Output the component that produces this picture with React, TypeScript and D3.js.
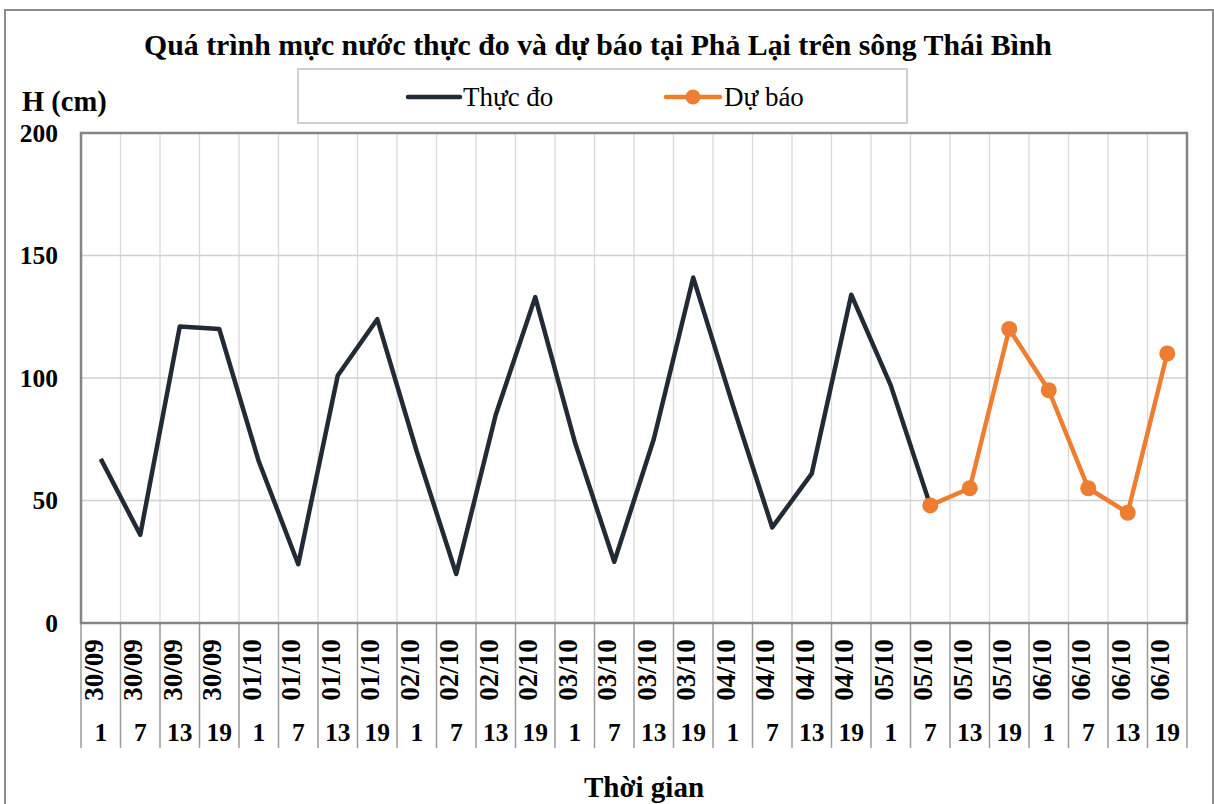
import React from 'react'
import * as d3 from 'd3'

// ngày / giờ trên trục hoành
const dates = ['30/09','30/09','30/09','30/09','01/10','01/10','01/10','01/10','02/10','02/10','02/10','02/10','03/10','03/10','03/10','03/10','04/10','04/10','04/10','04/10','05/10','05/10','05/10','05/10','06/10','06/10','06/10','06/10']
const hours = ['1','7','13','19','1','7','13','19','1','7','13','19','1','7','13','19','1','7','13','19','1','7','13','19','1','7','13','19']

// thực đo (đến 05/10 7h), dự báo (từ 05/10 7h)
const observed: (number | null)[] = [67, 36, 121, 120, 66, 24, 101, 124, 70, 20, 85, 133, 74, 25, 75, 141, 89, 39, 61, 134, 97, 48, null, null, null, null, null, null]
const forecast: (number | null)[] = [null, null, null, null, null, null, null, null, null, null, null, null, null, null, null, null, null, null, null, null, null, 48, 55, 120, 95, 55, 45, 110]

const yTicks = [0, 50, 100, 150, 200]

const W = 1214
const H = 804
const left = 81
const right = 1187
const top = 133
const bottom = 623
const font = '"Liberation Serif", "Times New Roman", serif'

const App = () => {
  const x = d3.scaleBand<number>().domain(d3.range(dates.length)).range([left, right])
  const y = d3.scaleLinear().domain([0, 200]).range([bottom, top])
  const cx = (i: number) => (x(i) as number) + x.bandwidth() / 2

  const line = d3.line<number | null>()
    .defined(d => d !== null)
    .x((d, i) => cx(i))
    .y(d => y(d as number))

  const bounds = d3.range(dates.length + 1).map(i => left + i * x.bandwidth())

  return (
    <svg width={W} height={H} style={{ position: 'absolute', left: 0, top: 0 }} fontFamily={font}>
      <rect x={0} y={0} width={W} height={H} fill="white" />
      {/* khung ngoài */}
      <path d={`M5,${H} V10 H1213 V${H}`} fill="none" stroke="#8c8c8c" strokeWidth={2} />

      <text x={598} y={55} textAnchor="middle" fontSize={29.8} fontWeight="bold">
        Quá trình mực nước thực đo và dự báo tại Phả Lại trên sông Thái Bình
      </text>

      {/* chú giải */}
      <rect x={298} y={69} width={609} height={54} fill="white" stroke="#d0d0d0" strokeWidth={2} />
      <line x1={408} x2={460} y1={97} y2={97} stroke="#222a35" strokeWidth={4.5} strokeLinecap="round" />
      <text x={463} y={106} fontSize={27}>Thực đo</text>
      <line x1={666} x2={720} y1={97} y2={97} stroke="#ed7d31" strokeWidth={4.5} strokeLinecap="round" />
      <circle cx={693} cy={97} r={7.5} fill="#ed7d31" />
      <text x={724} y={106} fontSize={27}>Dự báo</text>

      <text x={22} y={111} fontSize={28.5} fontWeight="bold">H (cm)</text>

      {/* lưới */}
      {bounds.slice(1, -1).map(b => (
        <line key={'v' + b} x1={b} x2={b} y1={top} y2={bottom} stroke="#d9d9d9" strokeWidth={1.3} />
      ))}
      {yTicks.slice(1, -1).map(t => (
        <line key={'h' + t} x1={left} x2={right} y1={y(t)} y2={y(t)} stroke="#d0d0d0" strokeWidth={1.5} />
      ))}
      {yTicks.map(t => (
        <text key={'yt' + t} x={58} y={y(t)} dy="0.35em" textAnchor="end" fontSize={25.5} fontWeight="bold">{t}</text>
      ))}

      {/* nhãn trục hoành */}
      {bounds.map(b => (
        <line key={'s' + b} x1={b} x2={b} y1={bottom} y2={748} stroke="#9a9a9a" strokeWidth={1.5} />
      ))}
      {dates.map((d, i) => (
        <text key={'d' + i} transform={`translate(${cx(i) + 2},670) rotate(-90)`} textAnchor="middle" fontSize={27} fontWeight="bold">{d}</text>
      ))}
      {hours.map((h, i) => (
        <text key={'hr' + i} x={cx(i)} y={741} textAnchor="middle" fontSize={25.5} fontWeight="bold">{h}</text>
      ))}

      <rect x={left} y={top} width={right - left} height={bottom - top} fill="none" stroke="#858585" strokeWidth={2.5} />

      {/* chuỗi số liệu */}
      <path d={line(observed) || ''} fill="none" stroke="#222a35" strokeWidth={4.5} strokeLinejoin="round" />
      <path d={line(forecast) || ''} fill="none" stroke="#ed7d31" strokeWidth={4.5} strokeLinejoin="round" />
      {forecast.map((v, i) => v === null ? null : (
        <circle key={'m' + i} cx={cx(i)} cy={y(v)} r={8} fill="#ed7d31" />
      ))}

      <text x={644} y={797} textAnchor="middle" fontSize={29} fontWeight="bold">Thời gian</text>
    </svg>
  )
}

export default App
